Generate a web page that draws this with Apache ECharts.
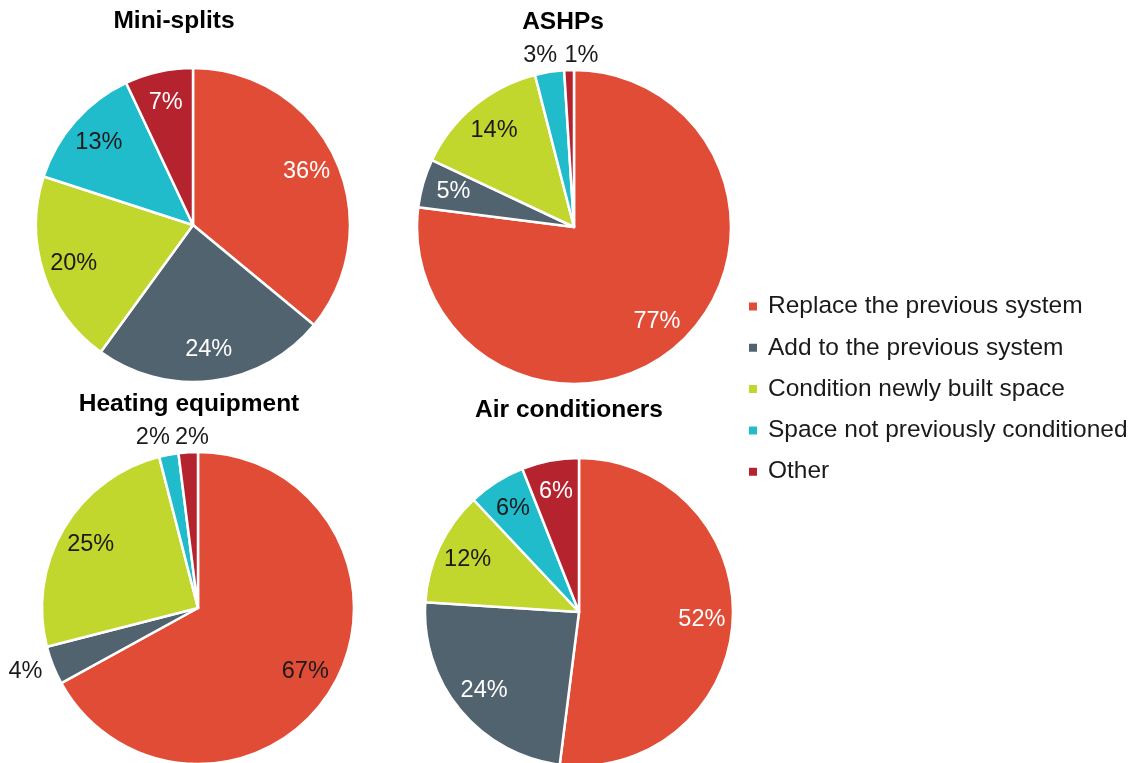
<!DOCTYPE html>
<html>
<head>
<meta charset="utf-8">
<title>Reason for installing equipment</title>
<script src="https://cdn.jsdelivr.net/npm/echarts@6/dist/echarts.min.js"></script>
<style>
  html, body { margin: 0; padding: 0; background: #fff; }
  #chart { width: 1135px; height: 763px; }
</style>
</head>
<body>
<div id="chart"></div>
<script>
// categories and shares (%) per equipment type
const categories = [
  'Replace the previous system',
  'Add to the previous system',
  'Condition newly built space',
  'Space not previously conditioned',
  'Other'
];
const chartTitles = ['Mini-splits', 'ASHPs', 'Heating equipment', 'Air conditioners'];
const miniSplits = [36, 24, 20, 13, 7];
const ashps = [77, 5, 14, 3, 1];
const heating = [67, 4, 25, 2, 2];
const airConditioners = [52, 24, 12, 6, 6];

const colors = ['#e04c36', '#526370', '#c2d72e', '#20bccc', '#b5232f'];
const WHITE = '#ffffff', DARK = '#1a1a1a';

// layout / style per pie (nudge = small shift of outside labels so they don't collide)
const pies = [
  { values: miniSplits, cx: 193, cy: 225, r: 157, titleX: 174, titleY: 21,
    labelColors: [WHITE, WHITE, DARK, DARK, WHITE], nudge: [] },
  { values: ashps, cx: 574, cy: 227, r: 157, titleX: 563, titleY: 22,
    labelColors: [WHITE, WHITE, DARK, DARK, DARK],
    nudge: [null, null, null, [-6, 4], [13, 6]] },
  { values: heating, cx: 198, cy: 608, r: 156, titleX: 189, titleY: 404,
    labelColors: [DARK, DARK, DARK, DARK, DARK],
    nudge: [null, [-8, -2], null, [-12, 3], [5, 6]] },
  { values: airConditioners, cx: 579, cy: 612, r: 154, titleX: 569, titleY: 410,
    labelColors: [WHITE, WHITE, DARK, DARK, WHITE], nudge: [] }
];

const font = 'Liberation Sans, Arial, sans-serif';
const series = [];
const titles = [];

pies.forEach(function (p, k) {
  titles.push({
    text: chartTitles[k],
    left: p.titleX,
    top: p.titleY - 12,
    textAlign: 'center',
    padding: 0,
    textStyle: { fontFamily: font, fontSize: 24.5, fontWeight: 'bold', color: '#000', lineHeight: 24 }
  });

  // visible slices
  series.push({
    type: 'pie',
    center: [p.cx, p.cy],
    radius: [0, p.r],
    startAngle: 90,
    clockwise: true,
    silent: true,
    label: { show: false },
    labelLine: { show: false },
    itemStyle: { borderColor: '#fff', borderWidth: 2.5 },
    data: p.values.map(function (v, i) {
      return { name: categories[i], value: v, itemStyle: { color: colors[i] } };
    })
  });

  // invisible ring that carries the inside labels
  series.push({
    type: 'pie',
    center: [p.cx, p.cy],
    radius: [p.r * 0.56, p.r],
    startAngle: 90,
    silent: true,
    avoidLabelOverlap: false,
    itemStyle: { color: 'transparent', borderWidth: 0 },
    labelLine: { show: false },
    label: { position: 'inside', formatter: '{c}%', fontFamily: font, fontSize: 23.5 },
    data: p.values.map(function (v, i) {
      return { name: categories[i], value: v,
        label: { show: v >= 5, color: p.labelColors[i] } };
    })
  });

  // invisible ring outside the pie for the small slices
  series.push({
    type: 'pie',
    center: [p.cx, p.cy],
    radius: [p.r, p.r + 36],
    startAngle: 90,
    silent: true,
    avoidLabelOverlap: false,
    itemStyle: { color: 'transparent', borderWidth: 0 },
    labelLine: { show: false },
    label: { position: 'inside', formatter: '{c}%', fontFamily: font, fontSize: 23.5 },
    data: p.values.map(function (v, i) {
      return { name: categories[i], value: v,
        label: { show: v < 5, color: p.labelColors[i], offset: p.nudge[i] || [0, 0] } };
    })
  });
});

const myChart = echarts.init(document.getElementById('chart'), null, { renderer: 'canvas' });

const option = {
  animation: false,
  backgroundColor: '#fff',
  title: titles,
  legend: {
    orient: 'vertical',
    left: 747,
    top: 294,
    padding: 0,
    itemWidth: 10,
    itemHeight: 10,
    itemGap: 16.3,
    icon: 'rect',
    textStyle: { fontFamily: font, fontSize: 24.5, color: '#1a1a1a', lineHeight: 24, padding: [0, 0, 0, 5] },
    data: categories.map(function (n, i) {
      return { name: n, itemStyle: { color: colors[i] } };
    })
  },
  series: series
};
myChart.setOption(option);
</script>
</body>
</html>
